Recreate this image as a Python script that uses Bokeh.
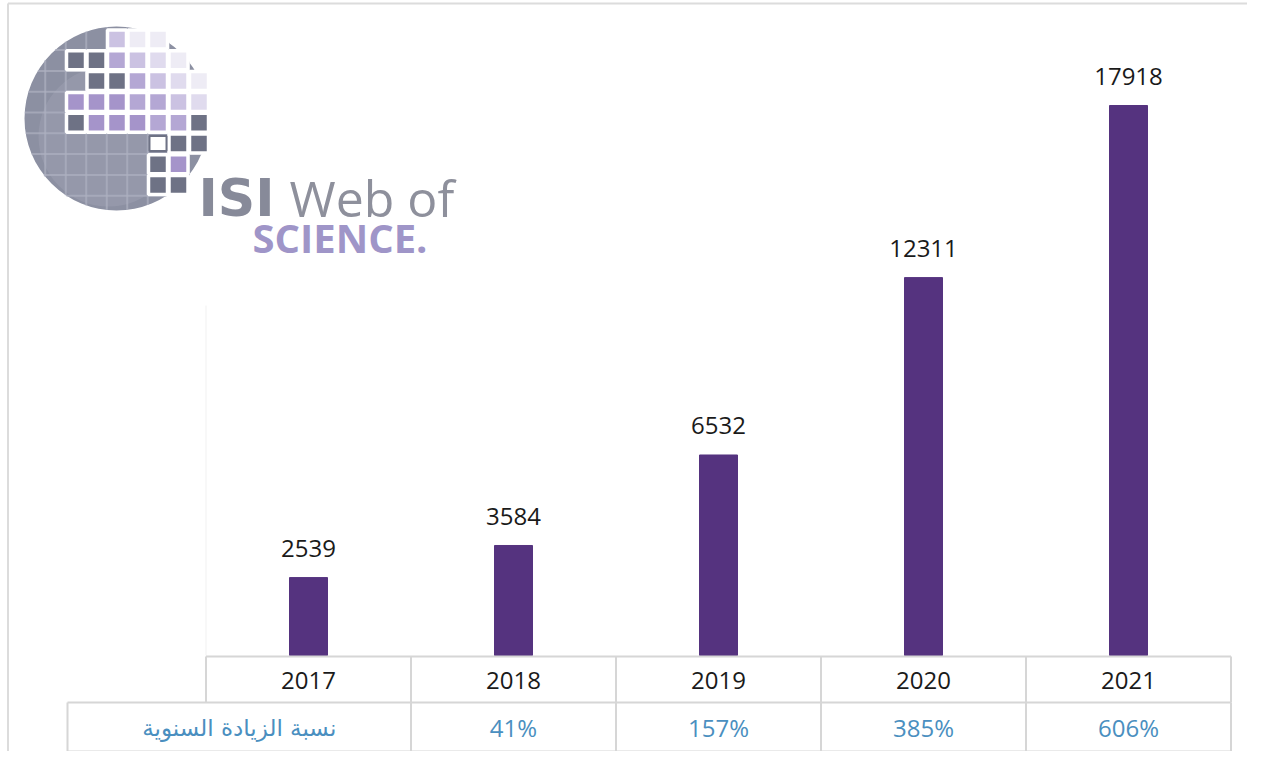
import math
from bokeh.plotting import figure
from bokeh.models import Range1d
from bokeh.core.properties import value
from bokeh.embed import file_html
from bokeh.resources import INLINE

# ---- data ----
years = ["2017", "2018", "2019", "2020", "2021"]
counts = [2539, 3584, 6532, 12311, 17918]
growth = ["", "41%", "157%", "385%", "606%"]
growth_label = "نسبة الزيادة السنوية"

BAR = "#55337f"
GRID = "#d6d6d6"
BLUE = "#4a8fc0"

W, H = 1247, 751
# value scale: 0 at pixel y=655, 17918 at y=105
vpp = 17918 / (655 - 105)
p = figure(width=W, height=H, output_backend="svg", toolbar_location=None,
           x_range=Range1d((0 - 308) / 205, (W - 308) / 205),
           y_range=Range1d(-(H - 655) * vpp, 655 * vpp),
           min_border=0, outline_line_color=None)
p.axis.visible = False
p.grid.visible = False
p.background_fill_color = "white"
p.extra_x_ranges = {"px": Range1d(0, W)}
p.extra_y_ranges = {"px": Range1d(H, 0)}

idx = list(range(len(years)))

# outer frame (left / top)
p.segment(x0=[7.5, 7.5], y0=[H, 3], x1=[7.5, W], y1=[3, 3],
          x_range_name="px", y_range_name="px", line_color="#dcdcdc", line_width=2)

# faint vertical baseline line
p.segment(x0=[-0.5], y0=[0], x1=[-0.5], y1=[(655 - 305) * vpp], line_color="#f1f1f1", line_width=1)

# bars
p.vbar(x=idx, top=counts, bottom=0, width=38 / 205, fill_color=BAR, line_color=BAR)

# value labels
p.text(x=idx, y=counts, text=[str(c) for c in counts], text_align="center",
       text_baseline="alphabetic", y_offset=-29, text_font=value("Open Sans"),
       text_font_size="24px", text_color="#1a1a1a")

# ---- table ----
n = len(years)
left1 = -0.5
right = n - 0.5
left2 = (67 - 308) / 205
p.segment(x0=[left1, left2, left2], x1=[right, right, right],
          y0=[656, 702, 751], y1=[656, 702, 751], y_range_name="px",
          line_color=GRID, line_width=2)
p.segment(x0=[i - 0.5 for i in range(n + 1)], x1=[i - 0.5 for i in range(n + 1)],
          y0=[656] * (n + 1), y1=[702] * (n + 1), y_range_name="px",
          line_color=GRID, line_width=2)
xs2 = [left2] + [i - 0.5 for i in range(1, n + 1)]
p.segment(x0=xs2, x1=xs2, y0=[702] * len(xs2), y1=[751] * len(xs2), y_range_name="px",
          line_color=GRID, line_width=2)

p.text(x=idx, y=[680] * n, text=years, y_range_name="px", text_align="center",
       text_baseline="middle", text_font=value("Open Sans"), text_font_size="24px",
       text_color="#1a1a1a")
p.text(x=idx[1:], y=[727] * (n - 1), text=growth[1:], y_range_name="px", text_align="center",
       text_baseline="middle", text_font=value("Open Sans"), text_font_size="24px",
       text_color=BLUE)
p.text(x=[(left2 + 0.5) / 2], y=[727], text=[growth_label], y_range_name="px",
       text_align="center", text_baseline="middle", text_font=value("DejaVu Sans"),
       text_font_size="23px", text_color=BLUE)

# ---- logo (decoration) ----
gx, gy, gr = 116, 118, 92
p.circle(x=[gx], y=[gy], radius=gr, x_range_name="px", y_range_name="px",
         fill_color="#8c90a2", line_color=None)
p.circle(x=[gx - 8], y=[gy + 18], radius=70, x_range_name="px", y_range_name="px",
         fill_color="#a2a6b6", fill_alpha=0.4, line_color=None)
# faint meridian / parallel lines (chords)
lx0, ly0, lx1, ly1 = [], [], [], []
for k in range(-5, 6):
    x = 65.25 + 20.5 * k + 61.5
    dx = x - gx
    if abs(dx) < gr - 4:
        h = math.sqrt(gr * gr - dx * dx)
        lx0.append(x); lx1.append(x); ly0.append(gy - h); ly1.append(gy + h)
    y = 49.6 + 20.8 * (k + 4)
    dy = y - gy
    if abs(dy) < gr - 4:
        w = math.sqrt(gr * gr - dy * dy)
        lx0.append(gx - w); lx1.append(gx + w); ly0.append(y); ly1.append(y)
p.segment(x0=lx0, y0=ly0, x1=lx1, y1=ly1, x_range_name="px", y_range_name="px",
          line_color="#aeb1c1", line_width=2, line_alpha=0.7)

D = "#6e7285"
P1, P2, P3, P4 = "#a594ca", "#b4a7d4", "#cbc2e2", "#e0dbee"
L = "#eeecf5"
pattern = [
    (0, [(3, P3), (4, L), (5, L)]),
    (1, [(1, D), (2, D), (3, P2), (4, P3), (5, P4), (6, L)]),
    (2, [(2, D), (3, D), (4, P2), (5, P3), (6, P4), (7, L)]),
    (3, [(1, P1), (2, P1), (3, P1), (4, P2), (5, P2), (6, P3), (7, P4)]),
    (4, [(1, D), (2, P1), (3, P1), (4, P1), (5, P2), (6, P2), (7, D)]),
    (5, [(6, D), (7, D)]),
    (6, [(5, D), (6, P1)]),
    (7, [(5, D), (6, D)]),
]
sx, sy, sc = [], [], []
for r, cells in pattern:
    for c, col in cells:
        sx.append(55 + 20.5 * c)
        sy.append(39 + 20.8 * r)
        sc.append(col)
p.rect(x=sx, y=sy, width=19, height=19, x_range_name="px", y_range_name="px",
       fill_color=sc, line_color="white", line_width=3.5)
p.rect(x=[55 + 20.5 * 5], y=[39 + 20.8 * 5], width=17, height=15, x_range_name="px",
       y_range_name="px", fill_color="white", line_color="#6e7285", line_width=2)

p.text(x=[198], y=[197], text=["ISI"], x_range_name="px", y_range_name="px",
       text_font=value("DejaVu Sans"), text_font_style="bold", text_font_size="52px",
       text_color="#878a99", text_baseline="alphabetic")
p.text(x=[289], y=[197], text=["Web of"], x_range_name="px", y_range_name="px",
       text_font=value("Open Sans"), text_font_size="50px",
       text_color="#8e909c", text_baseline="alphabetic")
p.text(x=[252], y=[237], text=["SCIENCE."], x_range_name="px", y_range_name="px",
       text_font=value("Open Sans"), text_font_style="bold", text_font_size="40px",
       text_color="#9f95c8", text_baseline="alphabetic")

open("out.html", "w").write(file_html(p, INLINE))
